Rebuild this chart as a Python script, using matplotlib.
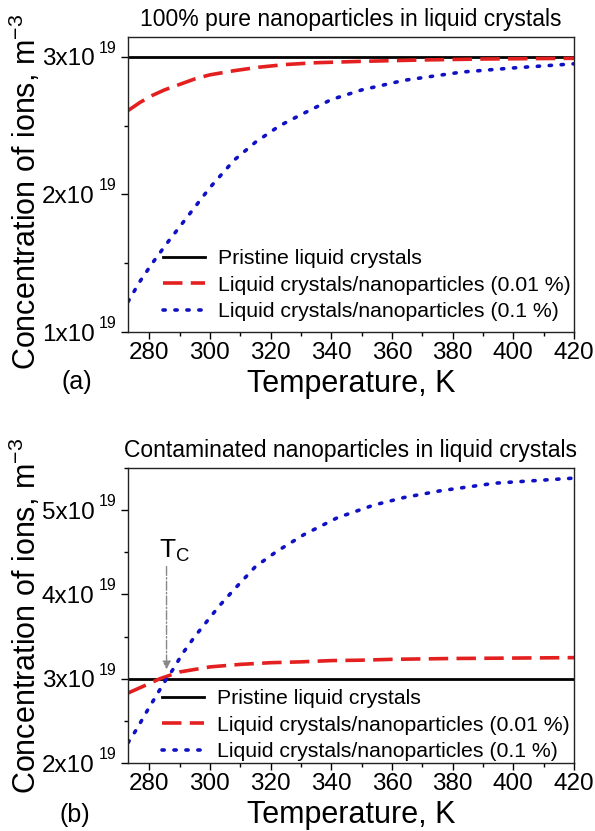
import matplotlib
matplotlib.use("Agg")
import matplotlib.pyplot as plt
from matplotlib import font_manager
from matplotlib.ticker import MultipleLocator, FuncFormatter

plt.rcParams['font.family'] = ['Liberation Sans', 'DejaVu Sans']
plt.rcParams['mathtext.fontset'] = 'custom'
plt.rcParams['mathtext.rm'] = 'Liberation Sans'
plt.rcParams['mathtext.it'] = 'Liberation Sans:italic'
plt.rcParams['mathtext.default'] = 'regular'
plt.rcParams['lines.scale_dashes'] = False

try:
    font_manager.findfont(font_manager.FontProperties(family='Liberation Sans Narrow'),
                          fallback_to_default=False)
    TICK_FAMILY, TICK_SIZE = 'Liberation Sans Narrow', 20
except Exception:
    TICK_FAMILY, TICK_SIZE = 'Liberation Sans', 17.5

# ---------------- data (concentration in units of 1e19 m^-3) ----------------
pristine_level = 3.0

# (a) pure nanoparticles
a_red_T = [273, 277, 281, 285, 290, 295, 300, 308, 316, 325, 335, 350, 370, 390, 420]
a_red_n = [2.61, 2.67, 2.72, 2.76, 2.80, 2.84, 2.87, 2.90, 2.925, 2.945, 2.958, 2.968, 2.978, 2.985, 2.99]
a_blue_T = [273, 277, 281, 286, 293, 300, 308, 315, 323, 330, 340, 350, 364, 383, 400, 420]
a_blue_n = [1.22, 1.37, 1.50, 1.65, 1.85, 2.05, 2.25, 2.38, 2.50, 2.58, 2.69, 2.76, 2.83, 2.89, 2.92, 2.95]

# (b) contaminated nanoparticles
b_red_T = [273, 278, 283.5, 290, 300, 310, 320, 330, 340, 350, 360, 380, 400, 420]
b_red_n = [2.83, 2.91, 3.0, 3.08, 3.14, 3.17, 3.19, 3.20, 3.215, 3.22, 3.23, 3.24, 3.245, 3.25]
b_blue_T = [273, 276, 279, 282, 285, 288, 291, 295, 299, 303, 308, 315, 322, 331, 342, 354, 364, 376, 394, 420]
b_blue_n = [2.24, 2.41, 2.60, 2.78, 2.96, 3.12, 3.30, 3.50, 3.68, 3.86, 4.06, 4.33, 4.51, 4.71, 4.91, 5.06, 5.15, 5.23, 5.32, 5.38]

Tc = 285.7
Tc_arrow_top = 4.33
Tc_arrow_bottom = 3.11

labels = ["Pristine liquid crystals",
          "Liquid crystals/nanoparticles (0.01 %)",
          "Liquid crystals/nanoparticles (0.1 %)"]
titles = ["100% pure nanoparticles in liquid crystals",
          "Contaminated nanoparticles in liquid crystals"]
panel_tags = ["(a)", "(b)"]
xlabel = "Temperature, K"
ylabel = "Concentration of ions, m$^{-3}$"
exponent = "19"

RED = "#e3201f"
BLUE = "#1010c4"

fig = plt.figure(figsize=(5.95, 8.31), dpi=100)
W, H = 595, 831
def ax_rect(l, t, r, b):
    return [l / W, 1 - b / H, (r - l) / W, (b - t) / H]

ax1 = fig.add_axes(ax_rect(128, 37, 574, 332))
ax2 = fig.add_axes(ax_rect(128, 468, 574, 763))

fmt = FuncFormatter(lambda v, p: "%dx10" % round(v))

def style(ax, ylim, ymaj):
    ax.set_xlim(273, 420)
    ax.set_ylim(*ylim)
    ax.xaxis.set_major_locator(MultipleLocator(20))
    ax.xaxis.set_minor_locator(MultipleLocator(10))
    ax.yaxis.set_major_locator(MultipleLocator(ymaj))
    ax.yaxis.set_minor_locator(MultipleLocator(ymaj / 2))
    ax.yaxis.set_major_formatter(fmt)
    ax.tick_params(which='major', direction='out', length=5, width=1, labelsize=TICK_SIZE)
    ax.tick_params(axis='x', which='major', pad=2)
    ax.tick_params(axis='y', which='major', pad=19)
    ax.tick_params(which='minor', direction='out', length=3, width=1)
    for lab in ax.get_xticklabels() + ax.get_yticklabels():
        lab.set_family(TICK_FAMILY)
    for s in ax.spines.values():
        s.set_linewidth(1.0)
        s.set_color('#222222')
    ax.set_xlabel(xlabel, fontsize=22, labelpad=4)
    ax.set_ylabel(ylabel, fontsize=22)
    lo, hi = ax.get_ylim()
    for v in ax.get_yticks():
        if lo - 1e-9 <= v <= hi + 1e-9:
            ax.annotate(exponent, xy=(0, v), xycoords=('axes fraction', 'data'),
                        xytext=(-29, 4), textcoords='offset pixels',
                        ha='left', va='baseline', fontsize=11.5, family='Liberation Sans',
                        annotation_clip=False)

leg_kw = dict(loc='upper left', frameon=False, fontsize=15.3, handlelength=2.0,
              handletextpad=0.6, labelspacing=0.35, borderpad=0, borderaxespad=0)

# panel (a)
ax1.axhline(pristine_level, color='black', lw=2, label=labels[0])
ax1.plot(a_red_T, a_red_n, color=RED, lw=2.6, dashes=(14, 6), label=labels[1])
ax1.plot(a_blue_T, a_blue_n, color=BLUE, lw=2.6, dashes=(1.6, 7), dash_capstyle='round', label=labels[2])
style(ax1, (1.0, 3.145), 1)
ax1.yaxis.set_label_coords(-0.19, 0.475)
ax1.set_title(titles[0], fontsize=16.5, pad=8)
ax1.legend(bbox_to_anchor=(0.078, 0.28), **leg_kw)
ax1.text(-0.115, -0.17, panel_tags[0], transform=ax1.transAxes, fontsize=18, ha='center', va='center')

# panel (b)
ax2.axhline(pristine_level, color='black', lw=2, label=labels[0])
ax2.plot(b_red_T, b_red_n, color=RED, lw=2.6, dashes=(14, 6), label=labels[1])
ax2.plot(b_blue_T, b_blue_n, color=BLUE, lw=2.6, dashes=(1.6, 7), dash_capstyle='round', label=labels[2])
style(ax2, (2.0, 5.5), 1)
ax2.yaxis.set_label_coords(-0.19, 0.50)
ax2.set_title(titles[1], fontsize=16.5, pad=8)
ax2.legend(bbox_to_anchor=(0.076, 0.25), **leg_kw)
ax2.text(-0.12, -0.175, panel_tags[1], transform=ax2.transAxes, fontsize=18, ha='center', va='center')

ax2.annotate("", xy=(Tc, Tc_arrow_bottom), xytext=(Tc, Tc_arrow_top),
             arrowprops=dict(arrowstyle='-|>', color='#888888', lw=1.0, linestyle='-.',
                             mutation_scale=12, shrinkA=0, shrinkB=0))
ax2.annotate("T$_{C}$", xy=(Tc, Tc_arrow_top), xytext=(-8, 9), textcoords='offset pixels',
             fontsize=19, ha='left', va='baseline')

fig.savefig("out.png", dpi=100)
